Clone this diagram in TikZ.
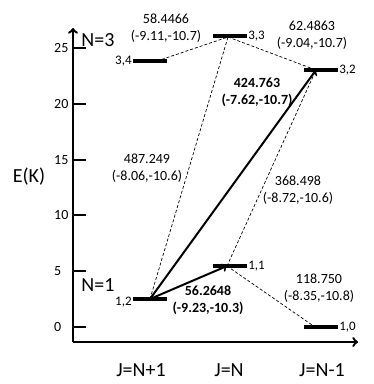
\documentclass[tikz,border=0pt]{standalone}
\usepackage{fontspec}
\setmainfont{Carlito}

\tikzset{
    axis/.style={line width=2.4pt},
    levelbar/.style={rectangle,fill=black,minimum width=34pt,minimum height=4pt,inner sep=0pt},
    weak/.style={line width=0.7pt,dash pattern=on 3pt off 2pt},
    strong/.style={->,line width=2pt},
    rate/.style={font=\fontsize{14}{17}\selectfont,align=center,inner sep=0pt},
    qnum/.style={font=\fontsize{13}{15}\selectfont,inner sep=1pt},
    big/.style={font=\fontsize{20}{22}\selectfont,inner sep=0pt}
}

\begin{document}
\begin{tikzpicture}[x=1pt,y=-1pt]
    \useasboundingbox (0,0) rectangle (374,384);

    % axes
    \coordinate (o) at (73,342);
    \coordinate (ytop) at (73,28);
    \coordinate (xend) at (358,342);
    \draw [axis,->] (o) -- (ytop);
    \draw [axis,->] (o) -- (xend);

    % energy ticks, 11.16 per K
    \foreach \e in {0,5,...,25} {
        \coordinate (tick\e) at (73,{327-11.16*\e});
        \draw [line width=2pt] (tick\e) -- ++(13,0);
        \node [anchor=west,font=\fontsize{14}{16}\selectfont,inner sep=0pt] (tlab\e) at (54,{327-11.16*\e}) {\e};
    }

    \node [big] (ek) at (29,177) {E(K)};
    \node [big] (n3) at (98,40) {N=3};
    \node [big] (n1) at (98,285) {N=1};

    \node [big] (jp) at (141,370) {J=N+1};
    \node [big] (j0) at (229,370) {J=N};
    \node [big] (jm) at (322,370) {J=N-1};

    % levels
    \node [levelbar] (en34) at (150,61) {};
    \node [levelbar] (en33) at (230,36) {};
    \node [levelbar] (en32) at (321,70) {};
    \node [levelbar] (en12) at (150,299) {};
    \node [levelbar] (en11) at (230,266) {};
    \node [levelbar] (en10) at (321,327) {};

    \node [qnum,anchor=east] (q34) at (en34.west) {3,4};
    \node [qnum,anchor=west] (q33) at (en33.east) {3,3};
    \node [qnum,anchor=west] (q32) at (en32.east) {3,2};
    \node [qnum,anchor=east] (q12) at ([yshift=-3pt]en12.west) {1,2};
    \node [qnum,anchor=west] (q11) at (en11.east) {1,1};
    \node [qnum,anchor=west] (q10) at (en10.east) {1,0};

    % where the lines meet the levels
    \coordinate (p34) at (157,61);
    \coordinate (p33) at (228,37);
    \coordinate (p32) at (316,70);
    \coordinate (p12) at (150,299);
    \coordinate (p11) at (227,266);
    \coordinate (p10) at (315,327);

    \draw [weak] (p34) -- (p33);
    \draw [weak] (p33) -- (p32);
    \draw [weak] (p12) -- (p33);
    \draw [weak] (p11) -- (p32);
    \draw [weak] (p11) -- (p10);
    \draw [strong] (p12) -- (p32);
    \draw [strong] (p12) -- (p11);

    % line frequencies
    \node [rate] (f1) at (166,28) {58.4466\\(-9.11,-10.7)};
    \node [rate] (f2) at (312,35) {62.4863\\(-9.04,-10.7)};
    \node [rate,font=\fontsize{14}{17}\selectfont\bfseries] (f3) at (257,92) {424.763\\(-7.62,-10.7)};
    \node [rate] (f4) at (147,168) {487.249\\(-8.06,-10.6)};
    \node [rate] (f5) at (298,190) {368.498\\(-8.72,-10.6)};
    \node [rate,font=\fontsize{14}{17}\selectfont\bfseries] (f6) at (208,300) {56.2648\\(-9.23,-10.3)};
    \node [rate] (f7) at (319,288) {118.750\\(-8.35,-10.8)};

\end{tikzpicture}
\end{document}
